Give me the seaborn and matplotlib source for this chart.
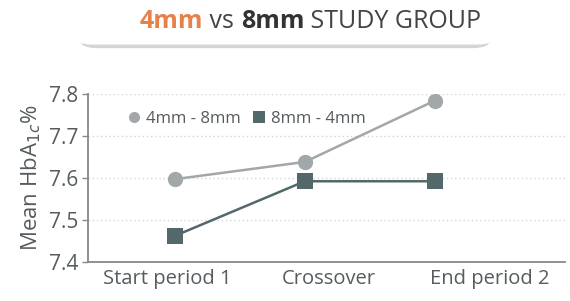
import matplotlib
matplotlib.use('Agg')
import matplotlib.pyplot as plt
import seaborn as sns
import pandas as pd
from matplotlib.patches import FancyBboxPatch

# data
periods = ['Start period 1', 'Crossover', 'End period 2']
group_48 = [7.597, 7.638, 7.784]
group_84 = [7.462, 7.592, 7.592]
yticks = [7.4, 7.5, 7.6, 7.7, 7.8]

df = pd.DataFrame({
    'Periode': periods * 2,
    'x': [0, 1, 2] * 2,
    'HbA1c': group_48 + group_84,
    'Grup': ['4mm - 8mm'] * 3 + ['8mm - 4mm'] * 3,
})

sns.set_style('white')
plt.rcParams['font.family'] = ['Open Sans', 'DejaVu Sans']
txt = '#555b5e'

fig = plt.figure(figsize=(5.7, 3.01), dpi=100)
ax = fig.add_axes([0.154, 0.13, 0.837, 0.558])

palette = {'4mm - 8mm': '#a2a7a9', '8mm - 4mm': '#52686b'}
sns.lineplot(data=df, x='x', y='HbA1c', hue='Grup', style='Grup',
             markers={'4mm - 8mm': 'o', '8mm - 4mm': 's'}, dashes=False,
             palette=palette, markersize=11, linewidth=1.8,
             markeredgewidth=0, ax=ax, zorder=3)

ax.set_xlim(-0.67, 3.0)
ax.set_ylim(7.4, 7.8)
ax.set_yticks(yticks)
ax.set_yticklabels([f'{v:.1f}' for v in yticks])
# label sumbu x sedikit bergeser dari titik data (seperti gambar asli)
ax.set_xticks([-0.06, 1.18, 2.42])
ax.set_xticklabels(periods)
ax.tick_params(axis='y', length=4, width=1, color='#888', labelsize=15, labelcolor=txt, pad=3, left=True)
ax.tick_params(axis='x', length=0, labelsize=14.5, labelcolor=txt, pad=5)
ax.set_xlabel('')
ax.set_ylabel('Mean HbA$_{1c}$%', fontsize=16, color=txt, labelpad=4)

for y in yticks[1:]:
    ax.axhline(y, color='#d4d4d4', linestyle=(0, (1, 2)), linewidth=1, zorder=1)

sns.despine(ax=ax, top=True, right=True)
ax.spines['left'].set_color('#888')
ax.spines['bottom'].set_color('#888')
ax.spines['left'].set_linewidth(1.3)
ax.spines['bottom'].set_linewidth(1.3)

# legenda
handles, labels = ax.get_legend_handles_labels()
for h in handles:
    h.set_linestyle('')
    h.set_markersize(8)
leg = ax.legend(handles, labels, ncol=2, loc='upper left', bbox_to_anchor=(0.045, 0.99),
                frameon=False, fontsize=12, handletextpad=0.1, columnspacing=0.5,
                handlelength=1.2)
for t in leg.get_texts():
    t.set_color(txt)

# judul dalam kotak
shadow = FancyBboxPatch((0.14, 0.84), 0.72, 0.13, boxstyle='round,pad=0,rounding_size=0.03',
                        transform=fig.transFigure, facecolor='#d3d6d8', edgecolor='none', zorder=0)
box = FancyBboxPatch((0.132, 0.852), 0.736, 0.17, boxstyle='round,pad=0,rounding_size=0.03',
                     transform=fig.transFigure, facecolor='white', edgecolor='none', zorder=1)
fig.patches.extend([shadow, box])

parts = [('4mm', '#e8804a', 'bold'), (' vs ', '#444', 'normal'),
         ('8mm', '#333', 'bold'), (' STUDY GROUP', '#444', 'normal')]
fig.canvas.draw()
r = fig.canvas.get_renderer()
widths = []
objs = []
for s, c, w in parts:
    t = fig.text(0, 0.93, s, color=c, fontweight=w, fontsize=18, va='center', ha='left', zorder=3)
    widths.append(t.get_window_extent(r).width / fig.bbox.width)
    objs.append(t)
x0 = 0.545 - sum(widths) / 2
for t, w in zip(objs, widths):
    t.set_x(x0)
    x0 += w

fig.savefig('out.png', dpi=100, facecolor='white')
